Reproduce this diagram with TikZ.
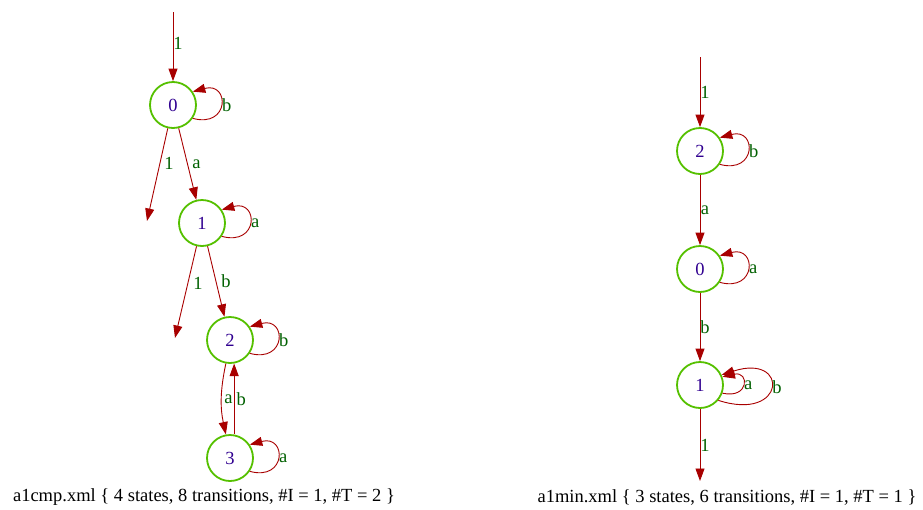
\documentclass[tikz,border=0pt]{standalone}
\usepackage{fontspec}
\setmainfont{Liberation Serif}
\usetikzlibrary{arrows.meta}
\definecolor{edgered}{HTML}{A80000}
\definecolor{labgreen}{HTML}{006000}
\definecolor{ringgreen}{HTML}{55C000}
\definecolor{statetxt}{HTML}{300090}
\begin{document}
\begin{tikzpicture}[x=1pt, y=-1pt, >={Triangle[length=12.5pt,width=9pt]},
  state/.style={circle, draw=ringgreen, line width=1.8pt, minimum size=46pt, inner sep=0pt, text=statetxt, font=\fontsize{18.5}{20}\selectfont},
  tr/.style={->, draw=edgered, line width=0.9pt},
  lbl/.style={text=labgreen, font=\fontsize{18.5}{20}\selectfont, inner sep=1pt},
  caption/.style={font=\fontsize{18.5}{20}\selectfont, inner sep=0pt}]
\useasboundingbox (0,0) rectangle (923,509);

% a1cmp
\node[state] (q0) at (173,105) {0};
\node[state] (q1) at (202,223) {1};
\node[state] (q2) at (230,340) {2};
\node[state] (q3) at (230,458) {3};
\coordinate (i0) at (173,12);
\coordinate (f0) at (147,221);
\coordinate (f1) at (175,338);

\draw[tr] (i0) -- (q0) node[lbl, pos=.45, xshift=5]{1};
\draw[tr] (q0) -- (f0) node[lbl, pos=.38, xshift=9]{1};
\draw[tr] (q0) -- (q1) node[lbl, pos=.5, xshift=9]{a};
\draw[tr] (q1) -- (f1) node[lbl, pos=.4, xshift=10]{1};
\draw[tr] (q1) -- (q2) node[lbl, pos=.5, xshift=10]{b};
\draw[tr] (q2.260) to[bend right=12] node[lbl, xshift=7]{a} (q3.100);
\draw[tr] (q3.80) -- (q2.280) node[lbl, midway, xshift=7]{b};
\node[caption] (cap0) at (204,497) {a1cmp.xml \{ 4 states, 8 transitions, \#I = 1, \#T = 2 \}};

% a1min
\node[state] (p2) at (700,151) {2};
\node[state] (p0) at (700,269) {0};
\node[state] (p1) at (700,385) {1};
\coordinate (i1) at (700,57);
\coordinate (f2) at (700,481);

\draw[tr] (i1) -- (p2) node[lbl, midway, xshift=5]{1};
\draw[tr] (p2) -- (p0) node[lbl, midway, xshift=5]{a};
\draw[tr] (p0) -- (p1) node[lbl, midway, xshift=5]{b};
\draw[tr] (p1) -- (f2) node[lbl, midway, xshift=5]{1};
\draw[tr] (p1.-20) .. controls +(27,6) and +(27,-6) .. (p1.20) node[lbl, pos=.5, anchor=west]{a};
\draw[tr] (p1.-40) .. controls +(68,22) and +(68,-22) .. (p1.25) node[lbl, pos=.5, anchor=west]{b};
\node[caption] (cap1) at (727,497) {a1min.xml \{ 3 states, 6 transitions, \#I = 1, \#T = 1 \}};

\foreach \n/\l in {q0/b,q1/a,q2/b,q3/a,p2/b,p0/a}
  \draw[tr] (\n.-34) .. controls +(37,10) and +(37,-10) .. (\n.34) node[lbl, pos=.5, anchor=west]{\l};

\end{tikzpicture}
\end{document}
